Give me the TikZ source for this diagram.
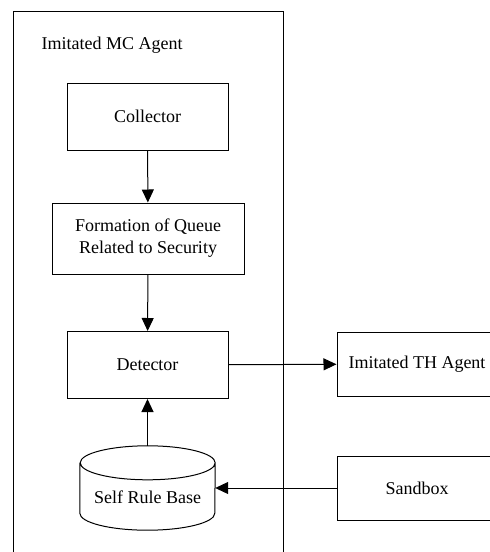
\documentclass[tikz,border=0pt]{standalone}
\usepackage{fontspec}
\setmainfont{Liberation Serif}
\usetikzlibrary{arrows.meta}

\begin{document}
\begin{tikzpicture}[x=1pt, y=-1pt, font=\fontsize{18}{22}\selectfont,
  block/.style={shape=rectangle, draw=black, line width=1pt, minimum width=161pt, minimum height=67pt, align=center},
  flow/.style={-{Triangle[length=13pt,width=12pt]}, line width=1pt, draw=black}]
\clip (0,0) rectangle (490,552);
% agent frame, runs past the lower edge
\draw[line width=1pt] (13,11) rectangle (283,600);
\node[anchor=west] (mc) at (38,45) {Imitated MC Agent};
\node[block] (collector) at (147.5,116.5) {Collector};
\node[block, minimum width=192pt, minimum height=71pt] (queue) at (148,238.5) {Formation of Queue\\Related to Security};
\node[block] (detector) at (147.5,365) {Detector};
% rule base drum: empty box, outline drawn by hand
\node[shape=rectangle, minimum width=135pt, minimum height=84pt, inner sep=0pt] (rules) at (147.5,488) {};
\draw[line width=1pt] ([yshift=-17pt]rules.north west) -- ([yshift=17pt]rules.south west)
  arc[start angle=180, end angle=360, x radius=67.5pt, y radius=17pt]
  -- ([yshift=-17pt]rules.north east)
  arc[start angle=0, end angle=360, x radius=67.5pt, y radius=17pt];
\node (rulestext) at (147.5,497) {Self Rule Base};
\node[block, minimum width=160pt, minimum height=64pt] (th) at (417,364) {Imitated TH Agent};
\node[block, minimum width=160pt, minimum height=64pt] (sandbox) at (417,488) {Sandbox};
\path [flow] (collector) edge (queue);
\path [flow] (queue) edge (detector);
\path [flow] (rules) edge (detector);
\path [flow] (detector) edge (th);
\path [flow] (sandbox) edge (rules);
\end{tikzpicture}
\end{document}
